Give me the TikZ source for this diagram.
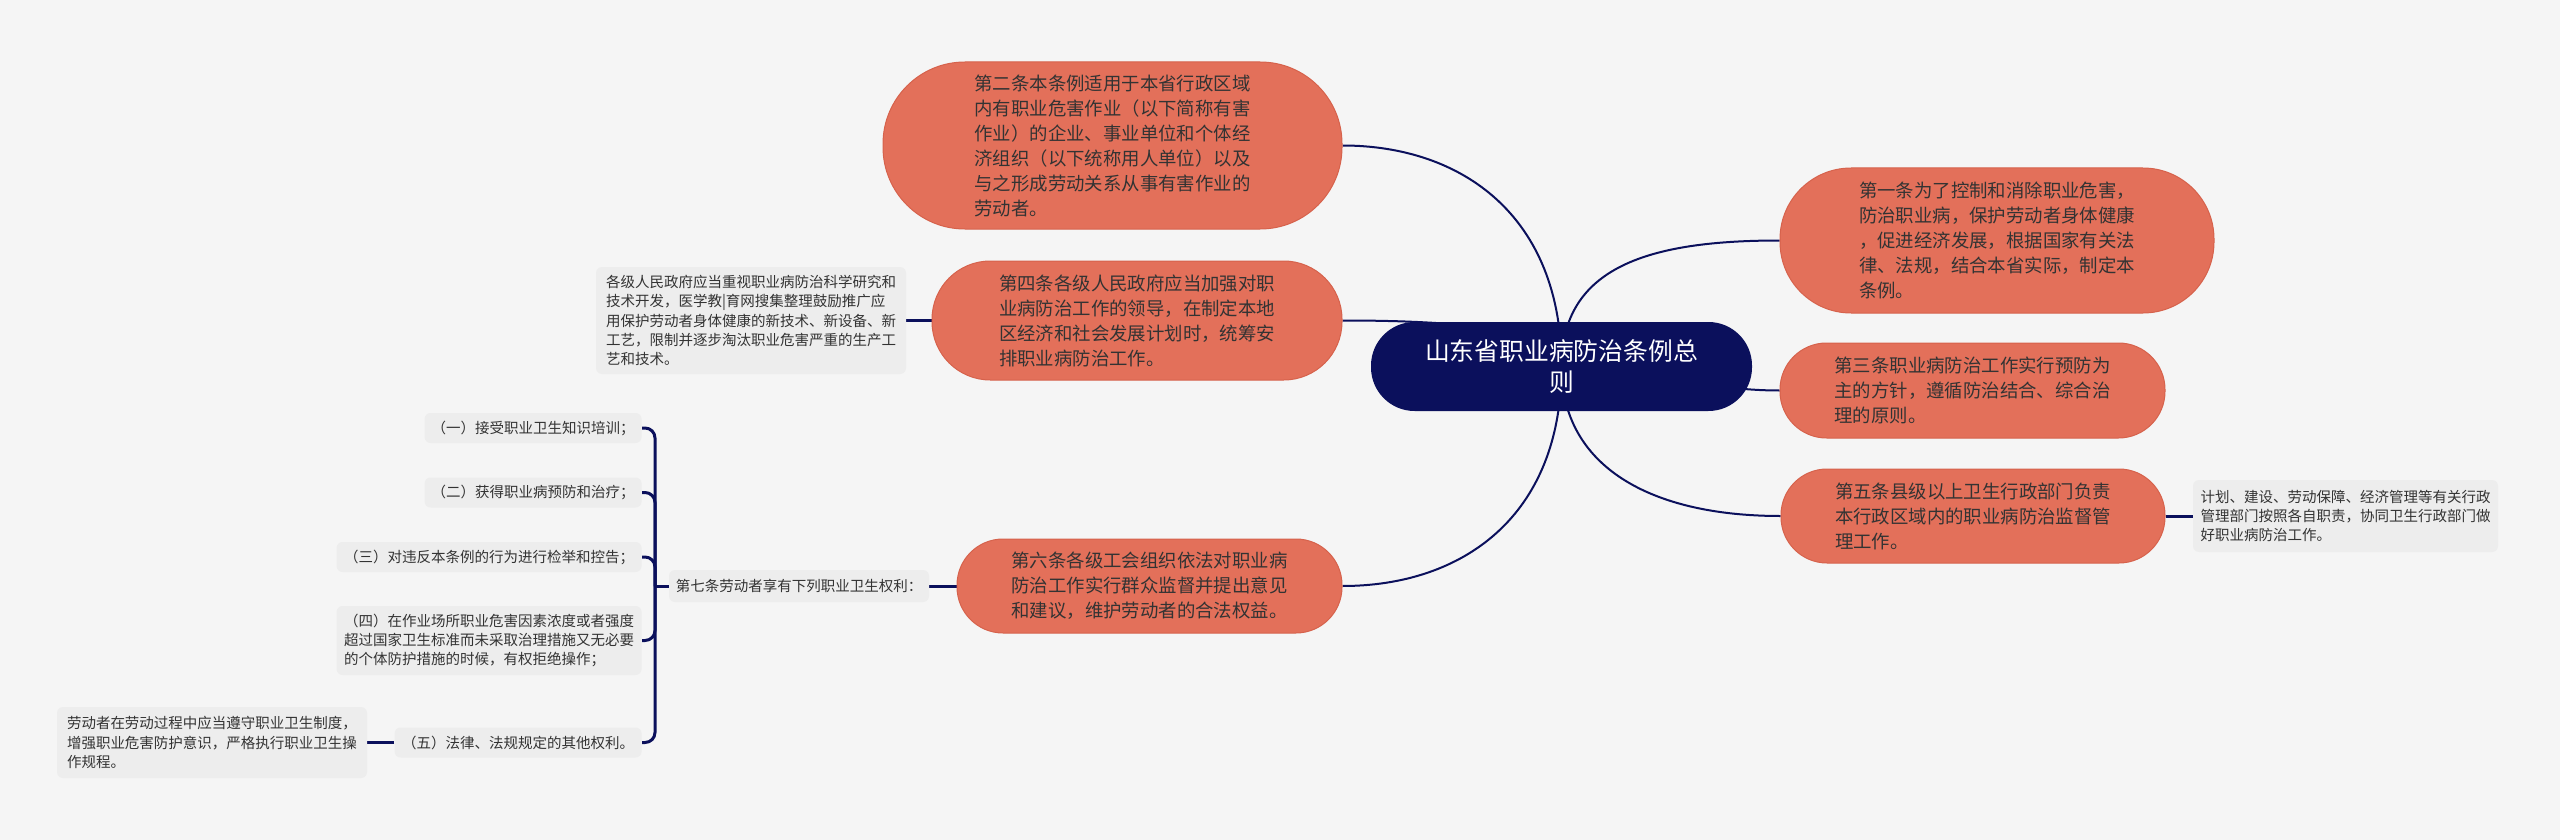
\documentclass[tikz,border=0pt]{standalone}
\usepackage{fontspec}
\newfontfamily\zhfont{Noto Sans CJK SC}
\usetikzlibrary{positioning}
\definecolor{navy}{HTML}{0B105C}
\definecolor{coral}{HTML}{E3705A}
\definecolor{coraledge}{HTML}{D6624C}
\definecolor{paper}{HTML}{F5F5F5}
\definecolor{chip}{HTML}{EDEDED}
\definecolor{ink}{HTML}{333333}
\pgfdeclarelayer{back}
\pgfdeclarelayer{edges}
\pgfsetlayers{back,edges,main}

\tikzset{
  root/.style={fill=navy, text=white, font=\zhfont\fontsize{12.4pt}{15.5pt}\selectfont,
    align=center, minimum width=190.5pt, minimum height=44.5pt, rounded corners=21.8pt},
  branch/.style 2 args={fill=coral, draw=coraledge, line width=0.5pt, text=ink,
    font=\zhfont\fontsize{9.2pt}{12.5pt}\selectfont, align=left,
    minimum width=#1, minimum height=#2, rounded corners=#2*0.49},
  leaf/.style={fill=chip, text=ink, font=\zhfont\fontsize{7.25pt}{9.6pt}\selectfont,
    align=left, rounded corners=3pt, inner xsep=2pt, inner ysep=2pt},
  edge/.style={navy, line width=1pt},
  twig/.style={navy, line width=1.5pt},
}

\begin{document}
\begin{tikzpicture}[x=0.5pt,y=-0.5pt]
  \begin{pgfonlayer}{back}
    \fill[paper] (0,0) rectangle (2560,840);
  \end{pgfonlayer}

  % centre
  \node[root] (root) at (1561.5,366.5) {山东省职业病防治条例总\\则};

  % right side
  \node[branch={217pt}{72.5pt}] (a1) at (1997,240.5)
    {第一条为了控制和消除职业危害，\\防治职业病，保护劳动者身体健康\\，促进经济发展，根据国家有关法\\律、法规，结合本省实际，制定本\\条例。};
  \node[branch={192.5pt}{47.5pt}] (a3) at (1972.5,390.5)
    {第三条职业病防治工作实行预防为\\主的方针，遵循防治结合、综合治\\理的原则。};
  \node[branch={192pt}{47pt}] (a5) at (1973,516)
    {第五条县级以上卫生行政部门负责\\本行政区域内的职业病防治监督管\\理工作。};
  \node[leaf, minimum width=152.5pt, minimum height=36pt] (a5n) at (2345.5,516)
    {计划、建设、劳动保障、经济管理等有关行政\\管理部门按照各自职责，协同卫生行政部门做\\好职业病防治工作。};

  % left side
  \node[branch={229.5pt}{83.5pt}] (a2) at (1112.5,145.5)
    {第二条本条例适用于本省行政区域\\内有职业危害作业（以下简称有害\\作业）的企业、事业单位和个体经\\济组织（以下统称用人单位）以及\\与之形成劳动关系从事有害作业的\\劳动者。};
  \node[branch={205pt}{59.5pt}] (a4) at (1137,320.5)
    {第四条各级人民政府应当加强对职\\业病防治工作的领导，在制定本地\\区经济和社会发展计划时，统筹安\\排职业病防治工作。};
  \node[leaf, minimum width=155pt, minimum height=53.5pt] (a4n) at (751,320.5)
    {各级人民政府应当重视职业病防治科学研究和\\技术开发，医学教|育网搜集整理鼓励推广应\\用保护劳动者身体健康的新技术、新设备、新\\工艺，限制并逐步淘汰职业危害严重的生产工\\艺和技术。};
  \node[branch={192.5pt}{47pt}] (a6) at (1149.5,586)
    {第六条各级工会组织依法对职业病\\防治工作实行群众监督并提出意见\\和建议，维护劳动者的合法权益。};
  \node[leaf, minimum width=130pt, minimum height=16pt] (a7) at (799,586)
    {第七条劳动者享有下列职业卫生权利：};

  % rights
  \node[leaf, anchor=east, minimum width=108.5pt, minimum height=15pt] (r1) at (642,428)
    {（一）接受职业卫生知识培训；};
  \node[leaf, anchor=east, minimum width=108.5pt, minimum height=15pt] (r2) at (642,492.5)
    {（二）获得职业病预防和治疗；};
  \node[leaf, anchor=east, minimum width=152.5pt, minimum height=15pt] (r3) at (642,557)
    {（三）对违反本条例的行为进行检举和控告；};
  \node[leaf, anchor=east, minimum width=152.5pt, minimum height=34.5pt] (r4) at (642,640.5)
    {（四）在作业场所职业危害因素浓度或者强度\\超过国家卫生标准而未采取治理措施又无必要\\的个体防护措施的时候，有权拒绝操作；};
  \node[leaf, anchor=east, minimum width=123.5pt, minimum height=15pt] (r5) at (642,742.5)
    {（五）法律、法规规定的其他权利。};
  \node[leaf, minimum width=155pt, minimum height=35.5pt] (r5n) at (212,742.5)
    {劳动者在劳动过程中应当遵守职业卫生制度，\\增强职业危害防护意识，严格执行职业卫生操\\作规程。};
  \coordinate (brace) at (655,586);

  \begin{pgfonlayer}{edges}
    \draw[edge] (root.center) .. controls +(0,-150) and +(120,0) .. (a2.east);
    \draw[edge] (root.center) .. controls +(0,-40) and +(100,0) .. (a4.west -| a4.east);
    \draw[edge] (root.center) .. controls +(0,150) and +(120,0) .. (a6.east);
    \draw[edge] (root.center) .. controls +(0,-100) and +(-130,0) .. (a1.west);
    \draw[edge] (root.center) .. controls +(80,0) and +(-80,0) .. (a3.west);
    \draw[edge] (root.center) .. controls +(0,100) and +(-130,0) .. (a5.west);
    \draw[twig] (a4.west) -- (a4n.east);
    \draw[twig] (a5.east) -- (a5n.west);
    \draw[twig] (a6.west) -- (a7.east);
    \draw[twig] (a7.west) -- (brace);
    \foreach \r in {r1,r2,r3,r4,r5}
      \draw[twig, rounded corners=5pt] (\r.east) -| (brace);
    \draw[twig] (r5.west) -- (r5n.east);
  \end{pgfonlayer}
\end{tikzpicture}
\end{document}
